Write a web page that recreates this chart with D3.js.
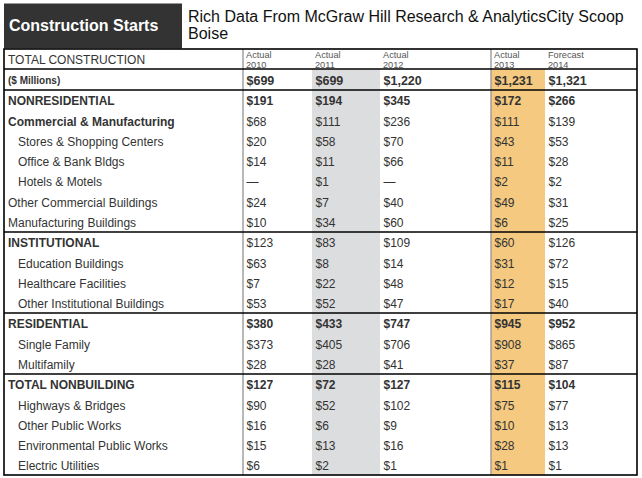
<!DOCTYPE html>
<html>
<head>
<meta charset="utf-8">
<script src="https://cdn.jsdelivr.net/npm/d3@7"></script>
<style>
  html, body { margin: 0; padding: 0; background: #fff; }
  svg { display: block; font-family: "Liberation Sans", Arial, sans-serif; }
</style>
</head>
<body>
<svg id="chart" width="642" height="478"></svg>
<script>
// ---------- DATA ----------
const titleText = "Construction Starts";
const subtitleLines = ["Rich Data From McGraw Hill Research & AnalyticsCity Scoop", "Boise"];
const headerLabel = "TOTAL CONSTRUCTION";
const unitsLabel = "($ Millions)";
const years = ["2010", "2011", "2012", "2013", "2014"];
const yearKinds = ["Actual", "Actual", "Actual", "Actual", "Forecast"];
const totals = [699, 699, 1220, 1231, 1321];

const rowLabels = [
  "NONRESIDENTIAL", "Commercial & Manufacturing", "Stores & Shopping Centers", "Office & Bank Bldgs",
  "Hotels & Motels", "Other Commercial Buildings", "Manufacturing Buildings",
  "INSTITUTIONAL", "Education Buildings", "Healthcare Facilities", "Other Institutional Buildings",
  "RESIDENTIAL", "Single Family", "Multifamily",
  "TOTAL NONBUILDING", "Highways & Bridges", "Other Public Works", "Environmental Public Works", "Electric Utilities"
];
const rowIndent     = [0, 0, 1, 1, 1, 0, 0, 0, 1, 1, 1, 0, 1, 1, 0, 1, 1, 1, 1];
const rowLabelBold  = [1, 1, 0, 0, 0, 0, 0, 1, 0, 0, 0, 1, 0, 0, 1, 0, 0, 0, 0];
const rowValueBold  = [1, 0, 0, 0, 0, 0, 0, 0, 0, 0, 0, 1, 0, 0, 1, 0, 0, 0, 0];
const groupStarts   = [0, 7, 11, 14];

const v2010 = [191, 68, 20, 14, null, 24, 10, 123, 63, 7, 53, 380, 373, 28, 127, 90, 16, 15, 6];
const v2011 = [194, 111, 58, 11, 1, 7, 34, 83, 8, 22, 52, 433, 405, 28, 72, 52, 6, 13, 2];
const v2012 = [345, 236, 70, 66, null, 40, 60, 109, 14, 48, 47, 747, 706, 41, 127, 102, 9, 16, 1];
const v2013 = [172, 111, 43, 11, 2, 49, 6, 60, 31, 12, 17, 945, 908, 37, 115, 75, 10, 28, 1];
const v2014 = [266, 139, 53, 28, 2, 31, 25, 126, 72, 15, 40, 952, 865, 87, 104, 77, 13, 13, 1];
const seriesValues = [v2010, v2011, v2012, v2013, v2014];

// ---------- LAYOUT ----------
const W = 642, H = 478;
const tableTop = 49, tableBottom = 475, tableLeft = 4, tableRight = 637;
const colKeys = ["label", ...years, "end"];
const colX = d3.scaleOrdinal().domain(colKeys).range([tableLeft, 243, 312, 380, 491, 545, tableRight]);
const colFill = d3.scaleOrdinal().domain(years).range(["none", "#dcdddf", "none", "#f5c97f", "none"]);
const rowKeys = ["header", "units", ...rowLabels.map((d, i) => "r" + i)];
const y = d3.scaleBand().domain(rowKeys).range([tableTop, tableBottom]).paddingInner(0).paddingOuter(0);
const fmt = d3.format("$,");
const textColor = "#333";

const svg = d3.select("#chart");
svg.append("rect").attr("width", W).attr("height", H).attr("fill", "#fff");

// Title block
svg.append("rect").attr("x", 4).attr("y", 3.5).attr("width", 178).attr("height", 45).attr("fill", "#333333");
svg.append("text").attr("x", 9).attr("y", 31).attr("fill", "#fff")
  .attr("font-size", 16).attr("font-weight", "bold").text(titleText);
svg.selectAll("text.sub").data(subtitleLines).join("text").attr("class", "sub")
  .attr("x", 188).attr("y", (d, i) => 21.5 + i * 17.5)
  .attr("fill", "#111").attr("font-size", 16).text(d => d);

// Column fills
const bodyTop = y("units");
svg.selectAll("rect.colfill").data(years.filter(yr => colFill(yr) !== "none")).join("rect")
  .attr("class", "colfill")
  .attr("x", d => colX(d))
  .attr("y", bodyTop)
  .attr("width", d => colX(colKeys[colKeys.indexOf(d) + 1]) - colX(d))
  .attr("height", tableBottom - bodyTop)
  .attr("fill", d => colFill(d));

// Gray vertical separators
svg.selectAll("line.vsep").data([years[0], years[3]]).join("line").attr("class", "vsep")
  .attr("x1", d => colX(d)).attr("x2", d => colX(d))
  .attr("y1", tableTop).attr("y2", tableBottom)
  .attr("stroke", "#9a9a9a").attr("stroke-width", 1.4);

// Horizontal lines
const hLines = [y("units"), y("r0"), ...groupStarts.slice(1).map(i => y("r" + i))];
svg.selectAll("line.hsep").data(hLines).join("line").attr("class", "hsep")
  .attr("x1", tableLeft).attr("x2", tableRight)
  .attr("y1", d => Math.round(d)).attr("y2", d => Math.round(d))
  .attr("stroke", "#000").attr("stroke-width", 1.6);

// Outer border
svg.append("rect").attr("x", tableLeft).attr("y", tableTop)
  .attr("width", tableRight - tableLeft).attr("height", tableBottom - tableTop)
  .attr("fill", "none").attr("stroke", "#000").attr("stroke-width", 1.6);

// Header row
svg.append("text").attr("x", 8).attr("y", y("header") + 15).attr("fill", textColor)
  .attr("font-size", 12).text(headerLabel);
const hdr = svg.selectAll("g.hdr").data(years).join("g").attr("class", "hdr");
hdr.append("text").attr("x", d => colX(d) + 3).attr("y", y("header") + 8.5)
  .attr("font-size", 9.2).attr("fill", "#555").text((d, i) => yearKinds[i]);
hdr.append("text").attr("x", d => colX(d) + 3).attr("y", y("header") + 18.5)
  .attr("font-size", 9.2).attr("fill", "#555").text(d => d);

// Units row
svg.append("text").attr("x", 8).attr("y", y("units") + 15).attr("fill", textColor)
  .attr("font-size", 10).attr("font-weight", "bold").text(unitsLabel);
svg.selectAll("text.tot").data(totals).join("text").attr("class", "tot")
  .attr("x", (d, i) => colX(years[i]) + 3.5).attr("y", y("units") + 15.5)
  .attr("fill", textColor).attr("font-size", 12.5).attr("font-weight", "bold").text(d => fmt(d));

// Body rows
const rows = svg.selectAll("g.row").data(rowLabels).join("g").attr("class", "row")
  .attr("transform", (d, i) => `translate(0,${y("r" + i) + 15.7})`);
rows.append("text")
  .attr("x", (d, i) => rowIndent[i] ? 18 : 8)
  .attr("fill", textColor).attr("font-size", 12)
  .attr("font-weight", (d, i) => rowLabelBold[i] ? "bold" : "normal")
  .text(d => d);
years.forEach((yr, j) => {
  rows.append("text")
    .attr("x", colX(yr) + 3.5)
    .attr("fill", textColor).attr("font-size", 12)
    .attr("font-weight", (d, i) => rowValueBold[i] ? "bold" : "normal")
    .text((d, i) => seriesValues[j][i] == null ? "—" : fmt(seriesValues[j][i]));
});
</script>
</body>
</html>
